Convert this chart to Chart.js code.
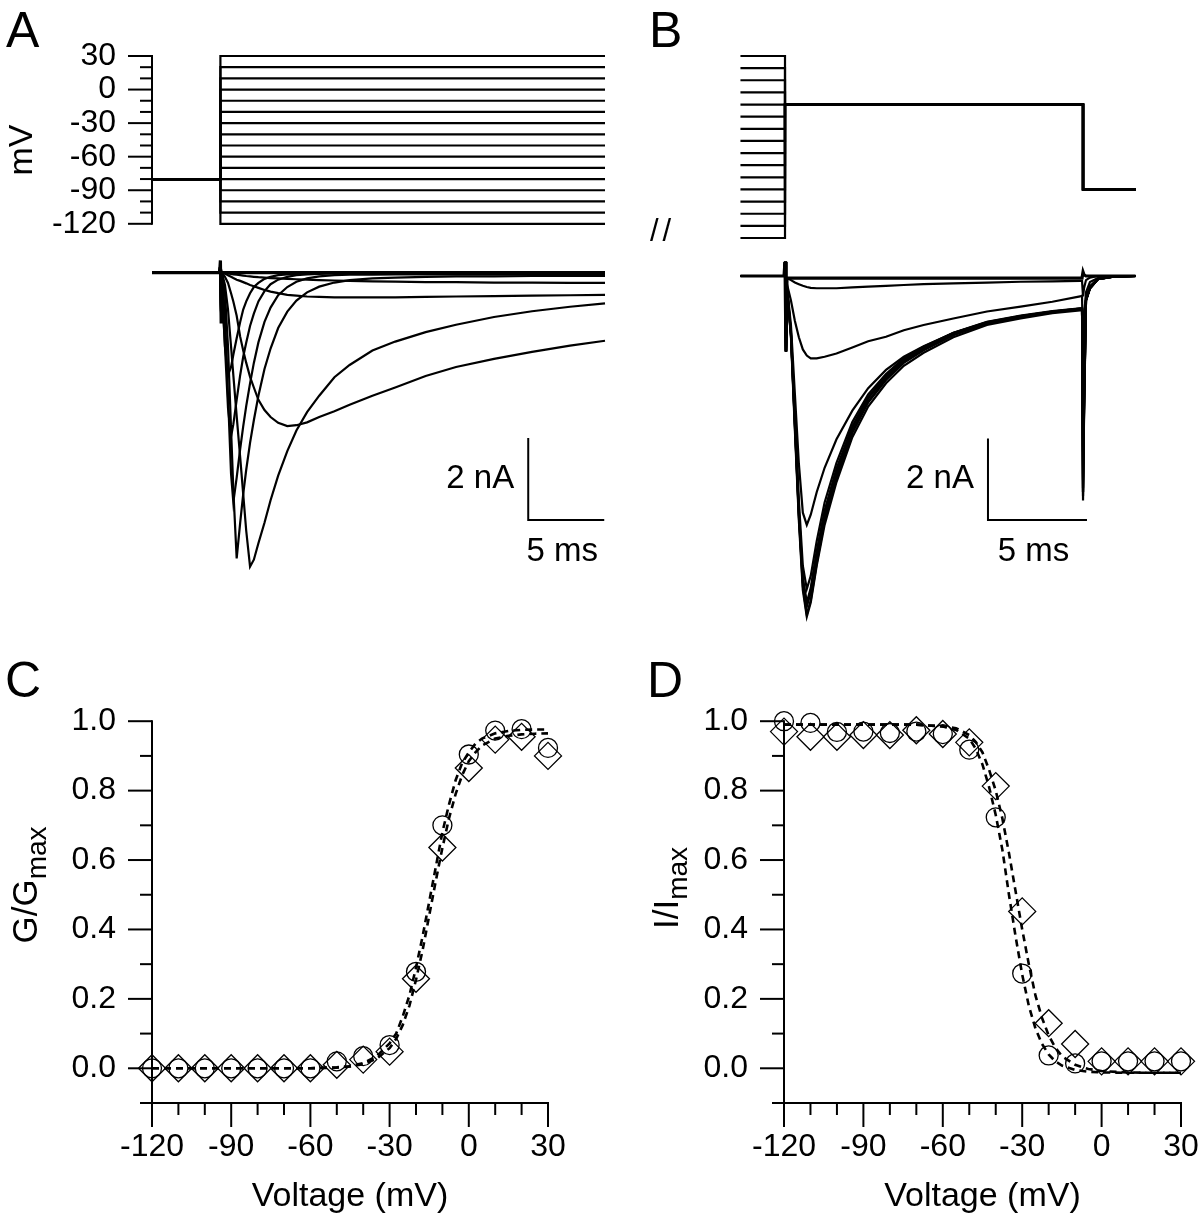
<!DOCTYPE html>
<html>
<head>
<meta charset="utf-8">
<script src="https://cdn.jsdelivr.net/npm/chart.js@4.4.1/dist/chart.umd.min.js"></script>
<style>
  body { margin: 0; background: #fff; }
  #fig { position: relative; width: 1200px; height: 1226px; overflow: hidden;
         font-family: "Liberation Sans", Arial, Helvetica, sans-serif; color: #000; }
  canvas { position: absolute; }
  .lbl { position: absolute; white-space: nowrap; line-height: 1; }
  .panel { font-size: 50px; }
  .rot { font-size: 35px; transform: translate(-50%, -50%) rotate(-90deg); }
  .rot sub { font-size: 28px; vertical-align: -0.3em; }
</style>
</head>
<body>
<div id="fig">
  <canvas id="aV" width="620" height="255" style="left:0;top:0"></canvas>
  <canvas id="aI" width="620" height="360" style="left:0;top:250px"></canvas>
  <canvas id="bV" width="580" height="255" style="left:620px;top:0"></canvas>
  <canvas id="bI" width="580" height="390" style="left:620px;top:250px"></canvas>
  <canvas id="cC" width="600" height="536" style="left:0;top:690px"></canvas>
  <canvas id="dC" width="600" height="536" style="left:600px;top:690px"></canvas>

  <div class="lbl panel" style="left:6px;top:5px">A</div>
  <div class="lbl panel" style="left:649px;top:5px">B</div>
  <div class="lbl panel" style="left:5px;top:655px">C</div>
  <div class="lbl panel" style="left:647px;top:655px">D</div>
  <div class="lbl rot" style="left:20px;top:150px;font-size:34px">mV</div>
  <div class="lbl" style="left:650px;top:215px;font-size:31px;letter-spacing:4px">//</div>
  <div class="lbl rot" style="left:29px;top:885px">G/G<sub>max</sub></div>
  <div class="lbl rot" style="left:670px;top:888px">I/I<sub>max</sub></div>
</div>

<script>
// ---- voltage protocol ----
const stepLevels = [-120, -110, -100, -90, -80, -70, -60, -50, -40, -30, -20, -10, 0, 10, 20, 30];
const holdingPotential = -80;
const aStepTimes = [0, 4.5, 29.8];              // ms: start, step onset, end of sweep
const bTestPotential = -10;
const bStepTimes = [-2.25, 0, 15.05, 17.7];      // ms: prepulse shown, test onset, test end, end

// ---- panel A: activation currents (nA) ----
const aTimes = [0, 4.45, 4.5, 4.55, 4.6, 4.8, 5.0, 5.2, 5.35, 5.57, 5.8, 6.0, 6.2, 6.45, 6.7, 7.0, 7.4,
  7.8, 8.3, 8.9, 9.5, 10.2, 11, 12, 13, 14.5, 16, 18, 20, 22.5, 25, 27.5, 29.8];
const aRest = [0, 0, 0.3, -1.2, 0, 0, 0, 0, 0, 0, 0, 0, 0, 0, 0, 0, 0,
  0, 0, 0, 0, 0, 0, 0, 0, 0, 0, 0, 0, 0, 0, 0, 0];
const aM40 = [0, 0, 0.25, -1.1, 0, -0.01, -0.02, -0.03, -0.04, -0.05, -0.06, -0.07, -0.08, -0.09, -0.1, -0.11, -0.12,
  -0.13, -0.14, -0.15, -0.16, -0.17, -0.18, -0.19, -0.2, -0.21, -0.22, -0.23, -0.23, -0.24, -0.24, -0.25, -0.25];
const aM30 = [0, 0, 0.25, -1.1, 0, -0.02, -0.06, -0.1, -0.13, -0.17, -0.2, -0.23, -0.26, -0.3, -0.33, -0.37, -0.42,
  -0.46, -0.5, -0.54, -0.56, -0.58, -0.59, -0.6, -0.6, -0.6, -0.6, -0.59, -0.58, -0.57, -0.56, -0.55, -0.54];
const aM20 = [0, 0, 0.25, -1.1, 0, -0.1, -0.25, -0.5, -0.7, -1.05, -1.56, -1.9, -2.2, -2.54, -2.8, -3.1, -3.35,
  -3.52, -3.66, -3.74, -3.72, -3.65, -3.52, -3.38, -3.22, -3.0, -2.8, -2.52, -2.3, -2.1, -1.93, -1.78, -1.66];
const aM10 = [0, 0, 0.25, -1.1, 0, -0.3, -0.9, -1.8, -2.5, -3.5, -4.5, -5.4, -6.3, -7.17, -7.0, -6.6, -6.1,
  -5.55, -4.95, -4.35, -3.85, -3.4, -3.0, -2.55, -2.25, -1.9, -1.68, -1.45, -1.27, -1.08, -0.94, -0.83, -0.75];
const aP0 = [0, 0, 0.25, -1.1, 0, -0.5, -1.8, -3.8, -5.3, -6.97, -6.1, -5.4, -4.8, -4.15, -3.6, -3.0, -2.35,
  -1.85, -1.35, -0.95, -0.68, -0.48, -0.34, -0.24, -0.18, -0.14, -0.12, -0.1, -0.09, -0.09, -0.08, -0.08, -0.08];
const aP10 = [0, 0, 0.25, -1.1, -0.1, -1.0, -3.0, -4.9, -5.6, -5.0, -4.3, -3.75, -3.25, -2.7, -2.2, -1.7, -1.2,
  -0.85, -0.55, -0.35, -0.22, -0.14, -0.09, -0.06, -0.05, -0.05, -0.04, -0.04, -0.04, -0.04, -0.04, -0.04, -0.04];
const aP20 = [0, 0, 0.25, -1.1, -0.3, -1.8, -3.3, -4.0, -3.7, -3.1, -2.5, -2.05, -1.7, -1.3, -1.0, -0.7, -0.45,
  -0.28, -0.17, -0.1, -0.06, -0.04, -0.03, -0.02, -0.02, -0.02, -0.02, -0.02, -0.02, -0.02, -0.02, -0.02, -0.02];
const aP30 = [0, 0, 0.25, -1.1, -0.4, -1.8, -2.5, -2.3, -2.0, -1.6, -1.2, -0.9, -0.7, -0.5, -0.35, -0.25, -0.15,
  -0.1, -0.06, -0.04, -0.03, -0.02, -0.01, 0, 0, 0, 0, 0, 0, 0, 0, 0, 0];

// ---- panel B: inactivation currents at -10 mV (nA) ----
const bTimes = [-2.25, -0.05, 0, 0.05, 0.1, 0.3, 0.5, 0.7, 0.9, 1.1, 1.3, 1.6, 2.0, 2.6, 3.4, 4.2,
  5.1, 6.0, 7.0, 8.5, 10.2, 11.9, 13.5, 14.9, 15.0, 15.05, 15.1, 15.2, 15.4, 15.8, 16.5, 17.7];
const bM120 = [0, 0, 0.35, -1.85, -0.3, -1.5, -3.8, -6.0, -7.7, -8.35, -8.0, -7.1, -6.1, -5.05, -3.95, -3.2,
  -2.63, -2.2, -1.88, -1.5, -1.2, -1.04, -0.91, -0.84, -0.84, -5.5, -3.5, -0.6, -0.3, -0.08, -0.02, 0];
const bM110 = [0, 0, 0.35, -1.85, -0.3, -1.45, -3.7, -5.9, -7.6, -8.3, -7.95, -7.05, -6.0, -4.95, -3.85, -3.1,
  -2.55, -2.13, -1.82, -1.45, -1.17, -1.01, -0.89, -0.82, -0.82, -5.4, -3.4, -0.6, -0.3, -0.08, -0.02, 0];
const bM100 = [0, 0, 0.35, -1.85, -0.3, -1.4, -3.6, -5.8, -7.45, -8.05, -7.7, -6.8, -5.8, -4.78, -3.72, -3.0,
  -2.47, -2.07, -1.77, -1.42, -1.15, -0.99, -0.88, -0.81, -0.81, -5.3, -3.3, -0.6, -0.3, -0.08, -0.02, 0];
const bM80 = [0, 0, 0.35, -1.85, -0.3, -1.45, -3.65, -5.85, -7.5, -8.1, -7.75, -6.9, -5.9, -4.88, -3.8, -3.07,
  -2.52, -2.1, -1.8, -1.44, -1.16, -1.0, -0.88, -0.81, -0.81, -5.3, -3.3, -0.6, -0.3, -0.08, -0.02, 0];
const bM60 = [0, 0, 0.35, -1.85, -0.3, -1.4, -3.55, -5.75, -7.4, -8.0, -7.65, -6.75, -5.75, -4.72, -3.68, -2.97,
  -2.44, -2.04, -1.75, -1.4, -1.13, -0.98, -0.87, -0.8, -0.8, -5.2, -3.2, -0.6, -0.3, -0.08, -0.02, 0];
const bM50 = [0, 0, 0.35, -1.85, -0.3, -1.35, -3.4, -5.5, -7.1, -7.67, -7.35, -6.5, -5.55, -4.58, -3.58, -2.9,
  -2.4, -2.01, -1.73, -1.39, -1.12, -0.97, -0.86, -0.79, -0.79, -5.0, -3.1, -0.6, -0.3, -0.08, -0.02, 0];
const bM40 = [0, 0, 0.35, -1.85, -0.25, -1.2, -2.9, -4.6, -5.8, -6.1, -5.85, -5.3, -4.7, -4.0, -3.3, -2.75,
  -2.3, -1.98, -1.72, -1.4, -1.14, -0.98, -0.87, -0.8, -0.8, -4.3, -2.7, -0.55, -0.25, -0.07, -0.02, 0];
const bM30 = [0, 0, 0.35, -1.85, -0.2, -0.6, -1.1, -1.5, -1.8, -1.95, -2.02, -2.02, -1.98, -1.9, -1.75, -1.6,
  -1.49, -1.33, -1.2, -1.04, -0.87, -0.75, -0.63, -0.5, -0.48, -2.0, -1.0, -0.4, -0.15, -0.05, 0, 0];
const bM20 = [0, 0, 0.35, -1.85, -0.05, -0.1, -0.16, -0.2, -0.24, -0.27, -0.29, -0.3, -0.3, -0.3, -0.28, -0.26,
  -0.24, -0.22, -0.2, -0.18, -0.16, -0.14, -0.13, -0.12, -0.12, -0.5, -0.3, -0.1, -0.04, 0, 0, 0];
const bRest = [0, 0, 0.35, -1.85, -0.05, -0.05, -0.05, -0.05, -0.05, -0.05, -0.05, -0.05, -0.05, -0.05, -0.05, -0.05,
  -0.05, -0.05, -0.05, -0.05, -0.05, -0.05, -0.05, -0.05, -0.05, 0.1, 0.03, 0, 0, 0, 0, 0];

// ---- panel C: activation (G/Gmax) ----
const voltages = [-120, -110, -100, -90, -80, -70, -60, -50, -40, -30, -20, -10, 0, 10, 20, 30];
const gCircle  = [0, 0, 0, 0, 0, 0, 0, 0.02, 0.035, 0.067, 0.278, 0.70, 0.904, 0.973, 0.977, 0.923];
const gDiamond = [0, 0, 0, 0, 0, 0, 0, 0.01, 0.025, 0.048, 0.258, 0.636, 0.865, 0.947, 0.955, 0.90];
const gFitV = [-120, -60, -50, -45, -40, -35, -30, -27.5, -25, -22.5, -20, -17.5, -15, -12.5, -10, -7.5,
  -5, -2.5, 0, 2.5, 5, 10, 15, 20, 25, 30];
const gFitCircle = [0, 0, 0.003, 0.006, 0.015, 0.034, 0.072, 0.10, 0.15, 0.21, 0.29, 0.38, 0.48, 0.58, 0.68, 0.76,
  0.83, 0.88, 0.91, 0.935, 0.95, 0.965, 0.972, 0.975, 0.976, 0.976];
const gFitDiamond = [0, 0, 0.002, 0.005, 0.012, 0.027, 0.058, 0.085, 0.125, 0.18, 0.255, 0.34, 0.44, 0.54, 0.635, 0.72,
  0.79, 0.845, 0.885, 0.91, 0.93, 0.95, 0.958, 0.962, 0.964, 0.965];

// ---- panel D: steady-state inactivation (I/Imax) ----
const iCircle  = [1.0, 0.995, 0.969, 0.97, 0.966, 0.97, 0.963, 0.918, 0.723, 0.273, 0.037, 0.014, 0.02, 0.02, 0.02, 0.02];
const iDiamond = [0.97, 0.955, 0.955, 0.96, 0.96, 0.974, 0.963, 0.939, 0.813, 0.452, 0.13, 0.07, 0.02, 0.02, 0.02, 0.02];
const iFitV = [-120, -70, -60, -55, -50, -47.5, -45, -42.5, -40, -37.5, -35, -32.5, -30, -27.5, -25, -22.5,
  -20, -17.5, -15, -10, -5, 0, 10, 20, 30];
const iFitCircle = [0.99, 0.99, 0.985, 0.975, 0.95, 0.92, 0.875, 0.81, 0.73, 0.63, 0.5, 0.38, 0.27, 0.18, 0.115, 0.07,
  0.04, 0.02, 0.008, -0.005, -0.01, -0.012, -0.013, -0.013, -0.013];
const iFitDiamond = [0.99, 0.99, 0.985, 0.98, 0.96, 0.94, 0.91, 0.86, 0.8, 0.72, 0.62, 0.51, 0.4, 0.3, 0.21, 0.145,
  0.095, 0.06, 0.035, 0.01, -0.002, -0.008, -0.012, -0.013, -0.013];

// ---------------------------------------------------------------
const FONT = '"Liberation Sans", Arial, Helvetica, sans-serif';
Chart.defaults.font.family = FONT;
Chart.defaults.font.size = 32;
Chart.defaults.color = '#000';

const isMajor = (v, step) => Math.abs(v / step - Math.round(v / step)) < 1e-6;

// Igor-style axes: plain line, long major ticks, short minor ticks, pointing outwards
const igorAxes = {
  id: 'igorAxes',
  afterDatasetsDraw(chart, args, o) {
    if (!o || (!o.xMajor && !o.yMajor)) return;
    const a = chart.chartArea, ctx = chart.ctx;
    const seg = (x1, y1, x2, y2) => { ctx.beginPath(); ctx.moveTo(x1, y1); ctx.lineTo(x2, y2); ctx.stroke(); };
    ctx.save();
    ctx.strokeStyle = '#000';
    ctx.lineWidth = 2;
    if (o.yMajor) {
      const s = chart.scales.y;
      seg(a.left, a.top - 1, a.left, a.bottom + 1);
      s.ticks.forEach(t => {
        const p = s.getPixelForValue(t.value);
        seg(a.left - (isMajor(t.value, o.yMajor) ? 24 : 12), p, a.left, p);
      });
    }
    if (o.xMajor) {
      const s = chart.scales.x;
      seg(a.left - 1, a.bottom, a.right + 1, a.bottom);
      s.ticks.forEach(t => {
        const p = s.getPixelForValue(t.value);
        seg(p, a.bottom, p, a.bottom + (isMajor(t.value, o.xMajor) ? 24 : 12));
      });
    }
    ctx.restore();
  }
};

// L-shaped calibration bar drawn in data units
const scaleBar = {
  id: 'scaleBar',
  afterDatasetsDraw(chart, args, o) {
    if (!o || o.t === undefined) return;
    const xs = chart.scales.x, ys = chart.scales.y, ctx = chart.ctx;
    const x0 = xs.getPixelForValue(o.t), x1 = xs.getPixelForValue(o.t + o.dt);
    const y0 = ys.getPixelForValue(o.i), y1 = ys.getPixelForValue(o.i + o.di);
    ctx.save();
    ctx.strokeStyle = '#000';
    ctx.lineWidth = 2;
    ctx.beginPath(); ctx.moveTo(x0, y1); ctx.lineTo(x0, y0); ctx.lineTo(x1, y0); ctx.stroke();
    ctx.fillStyle = '#000';
    ctx.font = '33px ' + FONT;
    ctx.textBaseline = 'middle';
    ctx.textAlign = 'right';
    ctx.fillText(o.iLabel, x0 - 14, (y0 + y1) / 2);
    ctx.textAlign = 'center';
    ctx.fillText(o.tLabel, (x0 + x1) / 2 - 4, y0 + 32);
    ctx.restore();
  }
};
Chart.register(igorAxes, scaleBar);

function line(xs, ys, width) {
  return {
    data: xs.map((x, i) => ({ x, y: ys[i] })),
    borderColor: '#000', borderWidth: width || 2, pointRadius: 0,
    fill: false, tension: 0, clip: false
  };
}

function baseOptions(padding, scales, plugins) {
  return {
    responsive: false, animation: false, devicePixelRatio: 1, events: [],
    layout: { padding },
    scales,
    plugins: Object.assign({ legend: { display: false }, tooltip: { enabled: false } }, plugins || {})
  };
}

const hiddenGrid = { display: true, drawOnChartArea: false, drawTicks: true, tickLength: 24,
  color: 'rgba(0,0,0,0)', tickColor: 'rgba(0,0,0,0)' };

// ---------- A: voltage steps ----------
const aVsets = stepLevels.map(v => line(
  [aStepTimes[0], aStepTimes[1], aStepTimes[1], aStepTimes[2]],
  [holdingPotential, holdingPotential, v, v], 2.2));
new Chart(document.getElementById('aV'), {
  type: 'line',
  data: { datasets: aVsets },
  options: baseOptions({ left: 0, right: 15, top: 56, bottom: 17 }, {
    x: { type: 'linear', display: false, min: 0, max: 29.8 },
    y: {
      type: 'linear', min: -120, max: 30,
      afterFit: s => { s.width = 152; },
      ticks: { stepSize: 10, autoSkip: false, padding: 12, callback: v => (v % 30 === 0 ? String(v) : '') },
      grid: hiddenGrid, border: { display: false }
    }
  }, { igorAxes: { yMajor: 30 } })
});

// ---------- A: currents ----------
const aTraces = [aRest, aM40, aM30, aM20, aM10, aP0, aP10, aP20, aP30];
new Chart(document.getElementById('aI'), {
  type: 'line',
  data: { datasets: aTraces.map((ys, k) => line(aTimes, ys, k === 0 ? 3.2 : 2.2)) },
  options: baseOptions({ left: 152, right: 15, top: 10.4, bottom: 29.8 }, {
    x: { type: 'linear', display: false, min: 0, max: 29.8 },
    y: { type: 'linear', display: false, min: -7.5, max: 0.3 }
  }, { scaleBar: { t: 24.75, i: -6.03, dt: 5, di: 2, tLabel: '5 ms', iLabel: '2 nA' } })
});

// ---------- B: voltage protocol ----------
const bVsets = stepLevels.map(v => line(
  [bStepTimes[0], bStepTimes[1], bStepTimes[1], bStepTimes[2], bStepTimes[2], bStepTimes[3]],
  [v, v, bTestPotential, bTestPotential, holdingPotential, holdingPotential], 2.2));
new Chart(document.getElementById('bV'), {
  type: 'line',
  data: { datasets: bVsets },
  options: baseOptions({ left: 120.45, right: 64.5, top: 56, bottom: 17 }, {
    x: { type: 'linear', display: false, min: -2.25, max: 17.7 },
    y: { type: 'linear', display: false, min: -120, max: 30 }
  })
});

// ---------- B: currents ----------
const bTraces = [bRest, bM20, bM30, bM40, bM50, bM60, bM80, bM100, bM110, bM120];
new Chart(document.getElementById('bI'), {
  type: 'line',
  data: { datasets: bTraces.map((ys, k) => line(bTimes, ys, k === 0 ? 3.2 : 2.2)) },
  options: baseOptions({ left: 120.45, right: 64.5, top: 9.7, bottom: 13.1 }, {
    x: { type: 'linear', display: false, min: -2.25, max: 17.7 },
    y: { type: 'linear', display: false, min: -8.6, max: 0.4 }
  }, { scaleBar: { t: 10.25, i: -5.98, dt: 5, di: 2, tLabel: '5 ms', iLabel: '2 nA' } })
});

// ---------- C and D: normalised curves ----------
function markers(ys, style, radius) {
  return {
    data: voltages.map((x, i) => ({ x, y: ys[i] })),
    showLine: false, pointStyle: style, pointRadius: radius, borderColor: '#000',
    pointBorderWidth: 1.3, pointBackgroundColor: 'rgba(0,0,0,0)', clip: false
  };
}
function fit(xs, ys) {
  return Object.assign(line(xs, ys, 2.6), { borderDash: [7, 5] });
}
function curveOptions(padLeft, padRight, xTitle) {
  return baseOptions({ left: 0, right: padRight, top: 28, bottom: 0 }, {
    x: {
      type: 'linear', min: -120, max: 30,
      afterFit: s => { s.height = 123; },
      ticks: { stepSize: 10, autoSkip: false, maxRotation: 0, padding: 1,
               callback: v => (v % 30 === 0 ? String(v) : '') },
      grid: hiddenGrid, border: { display: false },
      title: { display: true, text: xTitle, font: { size: 34 }, padding: { top: 0, bottom: 9 } }
    },
    y: {
      type: 'linear', min: -0.1, max: 1.0,
      afterFit: s => { s.width = padLeft; },
      ticks: { stepSize: 0.1, autoSkip: false, padding: 12,
               callback: v => (isMajor(v, 0.2) && v > -0.05 ? (Math.abs(v) < 1e-9 ? '0.0' : v.toFixed(1)) : '') },
      grid: hiddenGrid, border: { display: false }
    }
  }, { igorAxes: { xMajor: 30, yMajor: 0.2 } });
}

new Chart(document.getElementById('cC'), {
  type: 'line',
  data: { datasets: [
    markers(gCircle, 'circle', 9.5),
    markers(gDiamond, 'rectRot', 13.5),
    fit(gFitV, gFitCircle),
    fit(gFitV, gFitDiamond)
  ] },
  options: curveOptions(152, 52, 'Voltage (mV)')
});

new Chart(document.getElementById('dC'), {
  type: 'line',
  data: { datasets: [
    markers(iCircle, 'circle', 9.5),
    markers(iDiamond, 'rectRot', 13.5),
    fit(iFitV, iFitCircle),
    fit(iFitV, iFitDiamond)
  ] },
  options: curveOptions(184, 19, 'Voltage (mV)')
});
</script>
</body>
</html>
